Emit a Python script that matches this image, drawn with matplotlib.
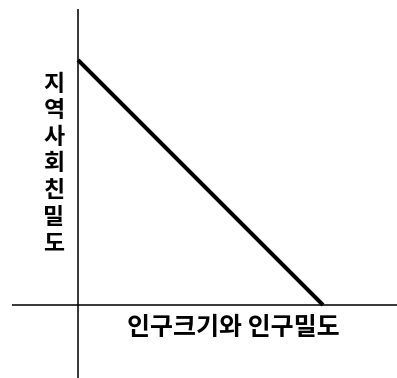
import matplotlib
matplotlib.use("Agg")
import matplotlib.pyplot as plt

# Data
line_x = [0.0, 1.0]
line_y = [1.0, 0.0]
xlabel = "인구크기와 인구밀도"
ylabel = "지역사회친밀도"

plt.rcParams['font.family'] = ['Noto Sans CJK KR', 'DejaVu Sans']

fig = plt.figure(figsize=(3.97, 3.78), dpi=100)
ax = fig.add_axes([0, 0, 1, 1])
ax.set_xlim(-78 / 245, (397 - 78) / 245)
ax.set_ylim(-73 / 245, (378 - 73) / 245)
ax.axis('off')

# axis lines
ax.plot([-0.269, 1.302], [0, 0], color='black', lw=1.1, solid_capstyle='butt')
ax.plot([0, 0], [-0.298, 1.208], color='black', lw=1.1, solid_capstyle='butt')

# diagonal
ax.plot(line_x, line_y, color='black', lw=2.9, solid_capstyle='butt')

ax.text(0.635, -0.093, xlabel, ha='center', va='center', fontsize=18,
        fontweight='bold', color='black')
ax.text(-0.098, 0.576, "\n".join(ylabel), ha='center', va='center', fontsize=16.5,
        fontweight='bold', color='black', linespacing=1.2)

fig.savefig("out.png", dpi=100)
